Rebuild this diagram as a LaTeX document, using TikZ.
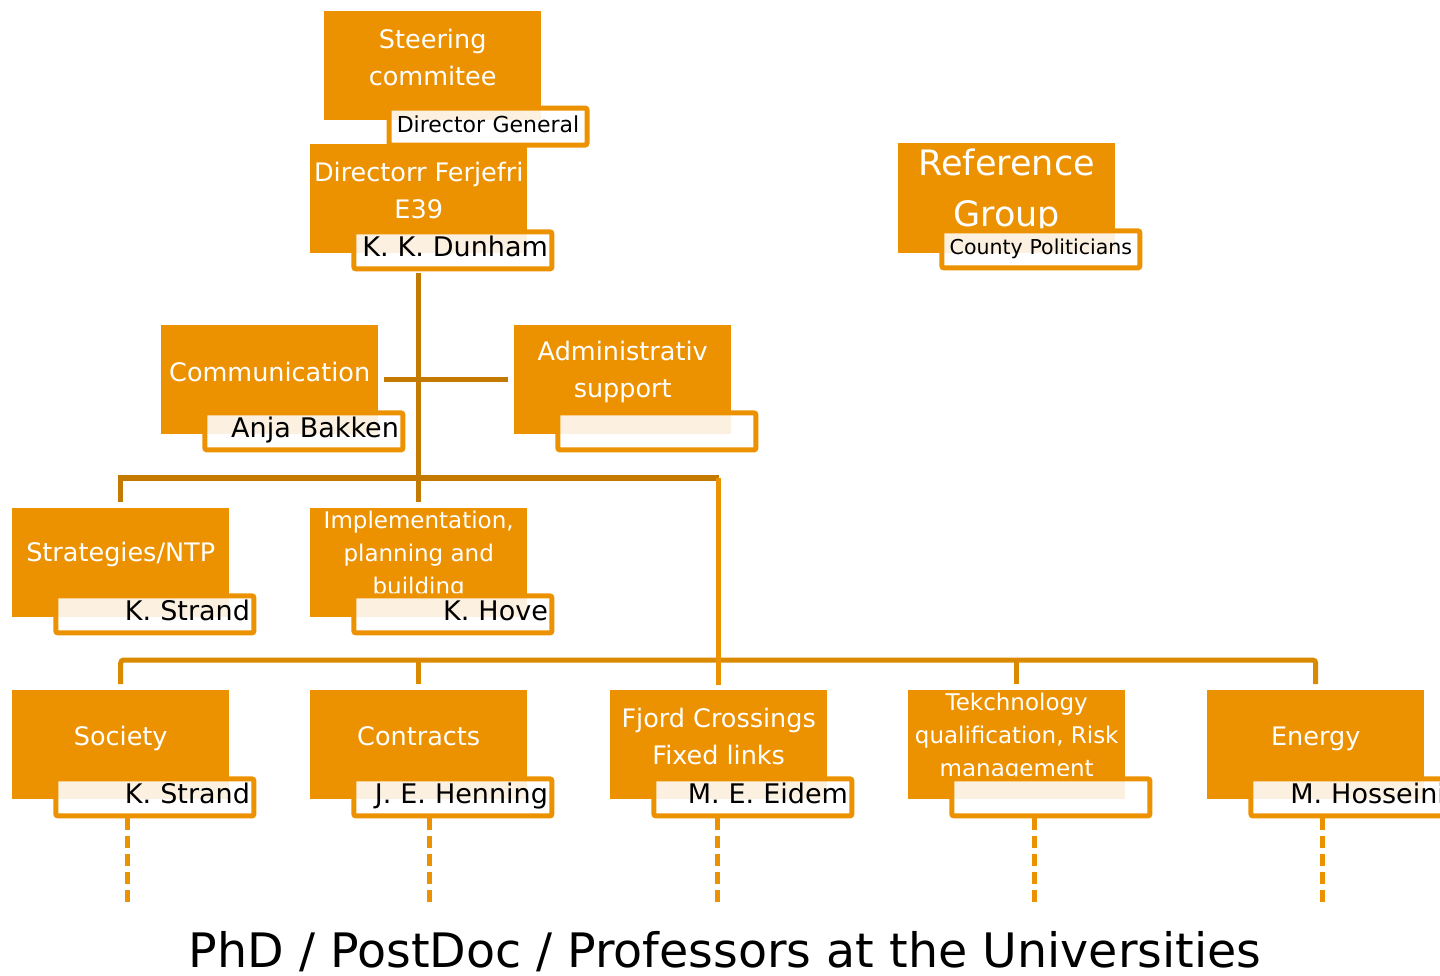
\documentclass[tikz,border=0pt]{standalone}
\usepackage{fontspec}
\setmainfont{DejaVu Sans}
\usetikzlibrary{positioning}
\definecolor{unitorange}{RGB}{236,146,0}
\definecolor{linkdark}{RGB}{196,122,0}
\definecolor{linkmid}{RGB}{219,138,0}

\begin{document}
\begin{tikzpicture}[x=1pt,y=-1pt]
    \pgfdeclarelayer{edgelayer}
    \pgfsetlayers{edgelayer,main}
    \tikzstyle{unit}=[fill=unitorange, draw=none, minimum width=217pt, minimum height=109pt, inner sep=0pt, anchor=north west]
    \tikzstyle{unittext}=[text=white, align=center, inner sep=0pt, font=\fontsize{25.5}{37}\selectfont]
    \tikzstyle{person}=[draw=unitorange, line width=5pt, fill=white, fill opacity=0.88, text opacity=1, rounded corners=2pt, minimum width=198pt, minimum height=37pt, inner xsep=4pt, inner ysep=0pt, text width=190pt, align=right, text height=19pt, text depth=6pt, font=\fontsize{27}{30}\selectfont]
    \tikzstyle{link}=[draw=linkdark, line width=5.5pt]
    \tikzstyle{bus}=[draw=linkmid, line width=5pt, rounded corners=3pt]
    \tikzstyle{trunk}=[draw=unitorange, line width=5pt]
    \tikzstyle{phd}=[draw=unitorange, line width=5pt, dash pattern=on 12pt off 6pt]

    \useasboundingbox (0,0) rectangle (1440,975);

    % top
    \node [style=unit] (stc) at (324,11) {};
    \node [style=unittext] at ([yshift=8pt]stc.center) {Steering\\commitee};
    \node [style=person, align=center, font=\fontsize{22}{26}\selectfont, text height=16pt, text depth=5pt] (stcn) at (488,126.5) {Director General};

    \node [style=unit] (dir) at (310,144) {};
    \node [style=unittext] at ([yshift=8pt]dir.center) {Directorr Ferjefri\\E39};
    \node [style=person] (dirn) at ([xshift=-74.5pt,yshift=3pt]dir.south east) {K. K. Dunham};

    \node [style=unit, minimum height=110pt] (ref) at (898,143) {};
    \node [style=unittext, font=\fontsize{35}{51}\selectfont] at ([yshift=7pt]ref.center) {Reference\\Group};
    \node [style=person, align=center, font=\fontsize{20.5}{24}\selectfont, text height=15pt, text depth=5pt] (refn) at ([xshift=-74.5pt,yshift=4pt]ref.south east) {County Politicians};

    % staff
    \node [style=unit] (com) at (161,325) {};
    \node [style=unittext] at ([yshift=8pt]com.center) {Communication};
    \node [style=person] (comn) at ([xshift=-74.5pt,yshift=3pt]com.south east) {Anja Bakken};

    \node [style=unit] (adm) at (514,325) {};
    \node [style=unittext] at ([yshift=8pt]adm.center) {Administrativ\\support};
    \node [style=person] (admn) at ([xshift=-74.5pt,yshift=3pt]adm.south east) {};

    % departments
    \node [style=unit] (str) at (12,508) {};
    \node [style=unittext] at ([yshift=8pt]str.center) {Strategies/NTP};
    \node [style=person] (strn) at ([xshift=-74.5pt,yshift=3pt]str.south east) {K. Strand};

    \node [style=unit] (imp) at (310,508) {};
    \node [style=unittext, font=\fontsize{23}{33}\selectfont] at ([yshift=8pt]imp.center) {Implementation,\\planning and\\building};
    \node [style=person] (impn) at ([xshift=-74.5pt,yshift=3pt]imp.south east) {K. Hove};

    % sections
    \node [style=unit] (soc) at (12,690) {};
    \node [style=unittext] at ([yshift=6pt]soc.center) {Society};
    \node [style=person] (socn) at ([xshift=-74.5pt,yshift=2pt]soc.south east) {K. Strand};

    \node [style=unit] (con) at (310,690) {};
    \node [style=unittext] at ([yshift=8pt]con.center) {Contracts};
    \node [style=person] (conn) at ([xshift=-74.5pt,yshift=2pt]con.south east) {J. E. Henning};

    \node [style=unit] (fjd) at (610,690) {};
    \node [style=unittext] at ([yshift=8pt]fjd.center) {Fjord Crossings\\Fixed links};
    \node [style=person] (fjdn) at ([xshift=-74.5pt,yshift=2pt]fjd.south east) {M. E. Eidem};

    \node [style=unit] (tek) at (908,690) {};
    \node [style=unittext, font=\fontsize{23}{33}\selectfont] at ([yshift=8pt]tek.center) {Tekchnology\\qualification, Risk\\management};
    \node [style=person] (tekn) at ([xshift=-74.5pt,yshift=2pt]tek.south east) {};

    \node [style=unit] (ene) at (1207,690) {};
    \node [style=unittext] at ([yshift=6pt]ene.center) {Energy};
    \node [style=person] (enen) at ([xshift=-74.5pt,yshift=2pt]ene.south east) {M. Hosseini};

    \node [font=\fontsize{47.5}{52}\selectfont, inner sep=0pt] (uni) at (725,952) {PhD / PostDoc / Professors at the Universities};

    \coordinate (bus1) at (418,478);
    \coordinate (bus2) at (718,660);
    \coordinate (socphd) at (127,905);
    \coordinate (conphd) at (429,905);
    \coordinate (fjdphd) at (717,905);
    \coordinate (tekphd) at (1034,905);
    \coordinate (enephd) at (1322,905);

    \begin{pgfonlayer}{edgelayer}
        \draw [style=link] ([yshift=-2pt]dirn.south -| dir.south) -- ([yshift=6pt]imp.north);
        \draw [style=link] ([xshift=6pt]com.east) -- ([xshift=-6pt]adm.west);
        \draw [style=link] ([yshift=6pt]str.north) |- (bus1 -| fjd.north);

        \draw [style=bus] ([yshift=6pt]soc.north) |- (bus2 -| ene.north) -- ([yshift=6pt]ene.north);
        \draw [style=bus] (bus2 -| con.north) -- ([yshift=6pt]con.north);
        \draw [style=bus] (bus2 -| tek.north) -- ([yshift=6pt]tek.north);
        \draw [style=trunk] (bus1 -| fjd.north) -- ([yshift=5pt]fjd.north);

        \draw [style=phd] (socphd |- socn.south) -- (socphd);
        \draw [style=phd] (conphd |- conn.south) -- (conphd);
        \draw [style=phd] (fjdphd |- fjdn.south) -- (fjdphd);
        \draw [style=phd] (tekphd |- tekn.south) -- (tekphd);
        \draw [style=phd] (enephd |- enen.south) -- (enephd);
    \end{pgfonlayer}
\end{tikzpicture}
\end{document}
